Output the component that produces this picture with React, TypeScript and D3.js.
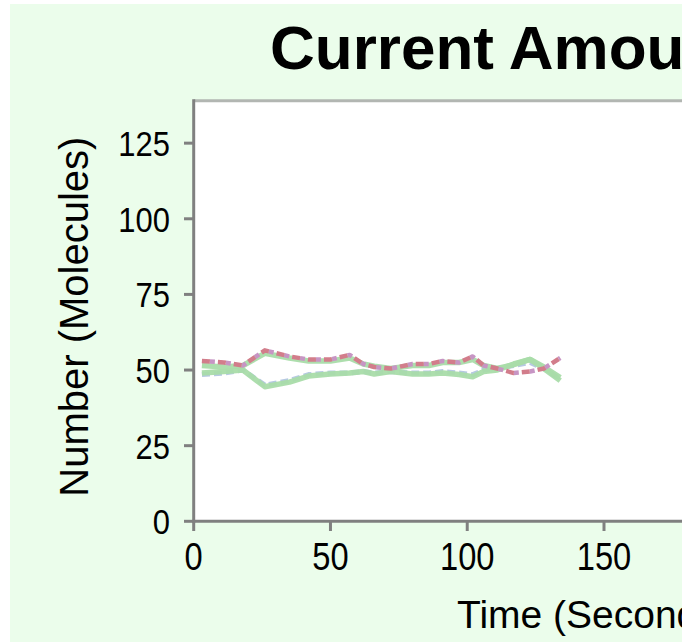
import React from 'react';
import * as d3 from 'd3';

const times = [3, 11, 18, 26, 35, 42, 50, 57, 62, 66, 72, 80, 86, 91, 97, 102, 106, 111, 117, 123, 128, 134];
const amountA = [53, 52.5, 51.5, 56.5, 54.5, 53.5, 53.5, 55, 52, 51, 50.5, 52, 52, 53, 52.5, 54.5, 51.5, 50.5, 49, 49.5, 50.5, 54];
const amountB = [49, 49.5, 50, 44.5, 46, 48, 48.7, 49, 49.5, 48.7, 49.5, 48.7, 48.7, 49, 48.5, 47.8, 49.5, 50, 52, 53.5, 50.5, 46.5];
const amountC = [51.5, 51, 51.5, 55.5, 54, 53, 53, 54, 52, 51.3, 50.5, 51.5, 51.5, 52.5, 52.5, 53.5, 51.5, 50.5, 51.8, 53.5, 51, 47.5];
const amountD = [48.5, 49, 50, 45, 46.5, 48.5, 49, 49, 49.5, 49, 49.5, 49, 49, 49.5, 49, 48.5, 50, 50.5, 51.5, 52.5, 50.5, 47];

const yTicks = [0, 25, 50, 75, 100, 125];
const xTicks = [0, 50, 100, 150];

const titleText = 'Current Amounts';
const xLabel = 'Time (Seconds)';
const yLabel = 'Number (Molecules)';

const FONT = '"Liberation Sans", Arial, Helvetica, sans-serif';

export default function App() {
  const W = 682;
  const H = 642;
  const x = d3.scaleLinear().domain([0, 150]).range([193.7, 604]);
  const y = d3.scaleLinear().domain([0, 139]).range([521.3, 100.8]);
  const line = d3
    .line<number>()
    .x((_, i) => x(times[i]))
    .y((d) => y(d));

  const plotLeft = x(0);
  const plotTop = y(139);
  const plotBottom = y(0);

  return (
    <svg
      width={W}
      height={H}
      style={{ position: 'absolute', left: 0, top: 0, display: 'block' }}
      fontFamily={FONT}
    >
      <rect x={0} y={0} width={W} height={H} fill="#ffffff" />
      <rect x={10} y={4} width={W - 10} height={H - 4} fill="#ebfdeb" />
      <rect x={plotLeft} y={plotTop} width={W - plotLeft} height={plotBottom - plotTop} fill="#ffffff" />
      <line x1={plotLeft} x2={W} y1={plotTop} y2={plotTop} stroke="#b2b6b2" strokeWidth={3} />

      {/* data lines */}
      <path d={line(amountD) || ''} fill="none" stroke="#b6c9e2" strokeWidth={5} strokeDasharray="8,4" strokeLinejoin="round" />
      <path d={line(amountB) || ''} fill="none" stroke="#a9dca9" strokeWidth={5.5} strokeLinejoin="round" strokeOpacity={0.95} />
      <path d={line(amountC) || ''} fill="none" stroke="#a9dca9" strokeWidth={5.5} strokeLinejoin="round" strokeOpacity={0.95} />
      <path d={line(amountA) || ''} fill="none" stroke="#c795c4" strokeWidth={4.5} strokeDasharray="5,11" strokeDashoffset={8} strokeLinejoin="round" />
      <path d={line(amountA) || ''} fill="none" stroke="#d27d8b" strokeWidth={4.5} strokeDasharray="8,8" strokeLinejoin="round" />

      {/* axes */}
      <line x1={plotLeft} x2={plotLeft} y1={plotTop - 1.5} y2={plotBottom + 1.5} stroke="#808080" strokeWidth={3} />
      <line x1={plotLeft - 1.5} x2={W} y1={plotBottom} y2={plotBottom} stroke="#808080" strokeWidth={3} />
      {yTicks.map((v) => (
        <g key={'y' + v}>
          <line x1={184} x2={plotLeft} y1={y(v)} y2={y(v)} stroke="#808080" strokeWidth={3} />
          <text
            transform={`translate(170,${y(v)}) scale(0.86,1)`}
            textAnchor="end"
            dy="0.36em"
            fontSize={36}
            fill="#000"
          >
            {v}
          </text>
        </g>
      ))}
      {xTicks.map((v) => (
        <g key={'x' + v}>
          <line x1={x(v)} x2={x(v)} y1={plotBottom} y2={531} stroke="#808080" strokeWidth={3} />
          <text
            transform={`translate(${x(v)},570) scale(0.86,1)`}
            textAnchor="middle"
            fontSize={38}
            fill="#000"
          >
            {v}
          </text>
        </g>
      ))}

      <text x={457} y={628.4} fontSize={39} fill="#000">
        {xLabel}
      </text>
      <text transform="translate(88,316.7) rotate(-90)" textAnchor="middle" fontSize={40} fill="#000">
        {yLabel}
      </text>
      <text x={270} y={68.5} fontSize={62} fontWeight="bold" fill="#000">
        {titleText}
      </text>
    </svg>
  );
}
